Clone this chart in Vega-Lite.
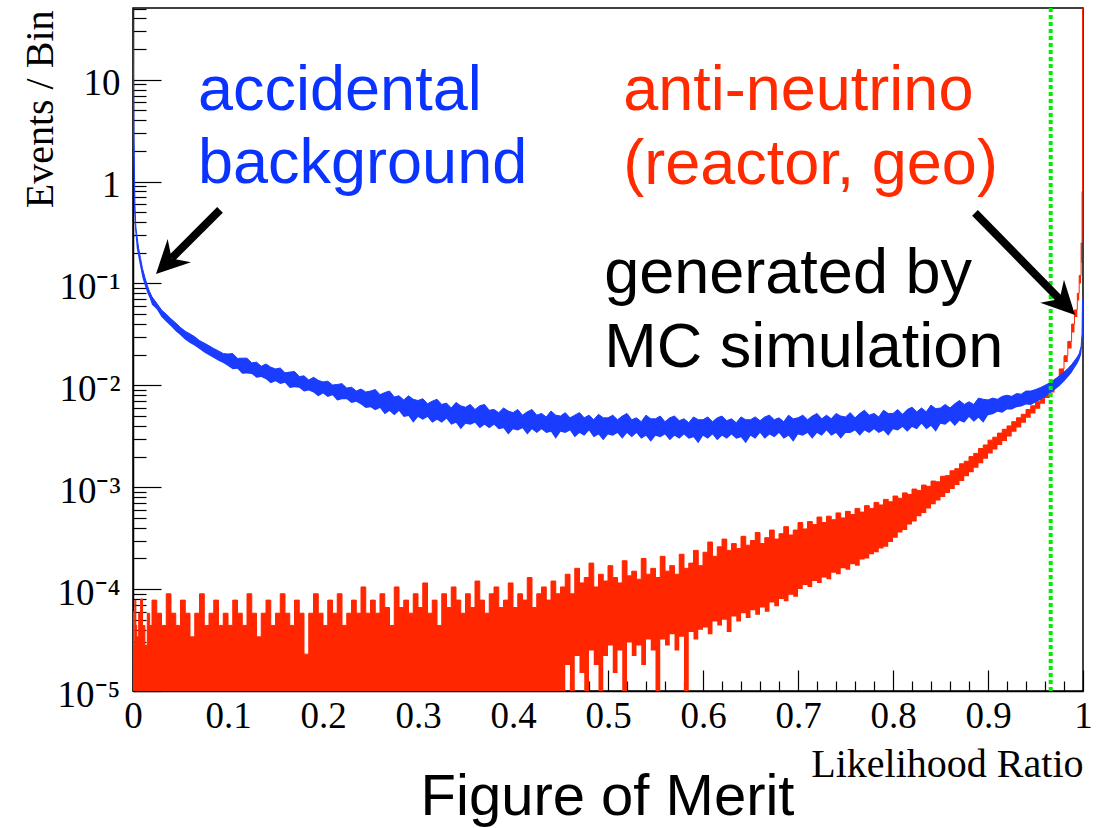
{
"$schema": "https://vega.github.io/schema/vega-lite/v6.json",
"width": 950, "height": 683,
"autosize": {"type": "none"},
"padding": {"left": 133, "top": 8, "right": 30, "bottom": 137},
"background": "white",
"config": {"view": {"stroke": "#000", "strokeWidth": 1.5}, "axis": {"grid": false}},
"datasets": {
"hist": [
{"x":0,"bh":50,"bl":3,"rh":6e-5,"rl":5e-6},
{"x":0.001,"bh":3,"bl":0.6,"rh":2.8e-5,"rl":5e-6},
{"x":0.002,"bh":0.6,"bl":0.36,"rh":7.8e-5,"rl":5e-6},
{"x":0.003,"bh":0.36,"bl":0.28,"rh":4.4e-5,"rl":5e-6},
{"x":0.004,"bh":0.3,"bl":0.22,"rh":3.4e-5,"rl":5e-6},
{"x":0.006,"bh":0.22,"bl":0.175,"rh":5.8e-5,"rl":5e-6},
{"x":0.008,"bh":0.175,"bl":0.14,"rh":8e-5,"rl":5e-6},
{"x":0.01,"bh":0.14,"bl":0.113,"rh":4.4e-5,"rl":5e-6},
{"x":0.0125,"bh":0.115,"bl":0.095,"rh":2.8e-5,"rl":5e-6},
{"x":0.015,"bh":0.096,"bl":0.081,"rh":5.8e-5,"rl":5e-6},
{"x":0.0175,"bh":0.083,"bl":0.072,"rh":4.4e-5,"rl":5e-6},
{"x":0.02,"bh":0.074,"bl":0.062,"rh":7.8e-5,"rl":5e-6},
{"x":0.025,"bh":0.064,"bl":0.056,"rh":5.8e-5,"rl":5e-6},
{"x":0.03,"bh":0.055,"bl":0.047,"rh":4.4e-5,"rl":5e-6},
{"x":0.035,"bh":0.05,"bl":0.042,"rh":9e-5,"rl":5e-6},
{"x":0.04,"bh":0.045,"bl":0.038,"rh":5.8e-5,"rl":5e-6},
{"x":0.045,"bh":0.041,"bl":0.034,"rh":4.4e-5,"rl":5e-6},
{"x":0.05,"bh":0.037,"bl":0.031,"rh":7.8e-5,"rl":5e-6},
{"x":0.055,"bh":0.034,"bl":0.028,"rh":5.8e-5,"rl":5e-6},
{"x":0.06,"bh":0.032,"bl":0.026,"rh":3.4e-5,"rl":5e-6},
{"x":0.065,"bh":0.03,"bl":0.0245,"rh":5.8e-5,"rl":5e-6},
{"x":0.07,"bh":0.0275,"bl":0.0228,"rh":9e-5,"rl":5e-6},
{"x":0.075,"bh":0.026,"bl":0.021,"rh":4.4e-5,"rl":5e-6},
{"x":0.08,"bh":0.0245,"bl":0.0198,"rh":5.8e-5,"rl":5e-6},
{"x":0.085,"bh":0.023,"bl":0.0186,"rh":7.8e-5,"rl":5e-6},
{"x":0.09,"bh":0.0218,"bl":0.0174,"rh":4.4e-5,"rl":5e-6},
{"x":0.095,"bh":0.0205,"bl":0.0166,"rh":5.8e-5,"rl":5e-6},
{"x":0.1,"bh":0.0203,"bl":0.0155,"rh":4.4e-5,"rl":5e-6},
{"x":0.105,"bh":0.0205,"bl":0.0144,"rh":7.8e-5,"rl":5e-6},
{"x":0.11,"bh":0.0184,"bl":0.0146,"rh":5.8e-5,"rl":5e-6},
{"x":0.115,"bh":0.0185,"bl":0.013,"rh":4.4e-5,"rl":5e-6},
{"x":0.12,"bh":0.0185,"bl":0.0131,"rh":9e-5,"rl":5e-6},
{"x":0.125,"bh":0.0166,"bl":0.0129,"rh":5.8e-5,"rl":5e-6},
{"x":0.13,"bh":0.0169,"bl":0.0119,"rh":3.4e-5,"rl":5e-6},
{"x":0.135,"bh":0.0154,"bl":0.0121,"rh":5.8e-5,"rl":5e-6},
{"x":0.14,"bh":0.0162,"bl":0.0115,"rh":7.8e-5,"rl":5e-6},
{"x":0.145,"bh":0.0151,"bl":0.0105,"rh":4.4e-5,"rl":5e-6},
{"x":0.15,"bh":0.0145,"bl":0.011,"rh":5.8e-5,"rl":5e-6},
{"x":0.155,"bh":0.0148,"bl":0.0103,"rh":9e-5,"rl":5e-6},
{"x":0.16,"bh":0.0133,"bl":0.0106,"rh":5.8e-5,"rl":5e-6},
{"x":0.165,"bh":0.0135,"bl":0.0094,"rh":4.4e-5,"rl":5e-6},
{"x":0.17,"bh":0.0137,"bl":0.0096,"rh":7.8e-5,"rl":5e-6},
{"x":0.175,"bh":0.0122,"bl":0.0095,"rh":5.8e-5,"rl":5e-6},
{"x":0.18,"bh":0.0124,"bl":0.0087,"rh":2.3e-5,"rl":5e-6},
{"x":0.185,"bh":0.0113,"bl":0.0089,"rh":5.8e-5,"rl":5e-6},
{"x":0.19,"bh":0.012,"bl":0.0085,"rh":9e-5,"rl":5e-6},
{"x":0.195,"bh":0.0112,"bl":0.0078,"rh":5.8e-5,"rl":5e-6},
{"x":0.2,"bh":0.0108,"bl":0.0083,"rh":4.4e-5,"rl":5e-6},
{"x":0.205,"bh":0.011,"bl":0.0077,"rh":7.8e-5,"rl":5e-6},
{"x":0.21,"bh":0.0101,"bl":0.008,"rh":5.8e-5,"rl":5e-6},
{"x":0.215,"bh":0.0102,"bl":0.0071,"rh":9e-5,"rl":5e-6},
{"x":0.22,"bh":0.0104,"bl":0.0073,"rh":4.4e-5,"rl":5e-6},
{"x":0.225,"bh":0.0094,"bl":0.0073,"rh":5.8e-5,"rl":5e-6},
{"x":0.23,"bh":0.0096,"bl":0.0067,"rh":7.8e-5,"rl":5e-6},
{"x":0.235,"bh":0.0088,"bl":0.0069,"rh":5.8e-5,"rl":5e-6},
{"x":0.24,"bh":0.0092,"bl":0.0065,"rh":1.05e-4,"rl":5e-6},
{"x":0.245,"bh":0.0086,"bl":0.006,"rh":5.8e-5,"rl":5e-6},
{"x":0.25,"bh":0.0088,"bl":0.0061,"rh":7.8e-5,"rl":5e-6},
{"x":0.255,"bh":0.0091,"bl":0.0057,"rh":5.8e-5,"rl":5e-6},
{"x":0.26,"bh":0.0081,"bl":0.006,"rh":9e-5,"rl":5e-6},
{"x":0.265,"bh":0.0085,"bl":0.0052,"rh":6.6e-5,"rl":5e-6},
{"x":0.27,"bh":0.0088,"bl":0.0056,"rh":4.4e-5,"rl":5e-6},
{"x":0.275,"bh":0.0077,"bl":0.0051,"rh":1.05e-4,"rl":5e-6},
{"x":0.28,"bh":0.0079,"bl":0.0056,"rh":6.6e-5,"rl":5e-6},
{"x":0.285,"bh":0.0072,"bl":0.0049,"rh":7.8e-5,"rl":5e-6},
{"x":0.29,"bh":0.0079,"bl":0.005,"rh":5.8e-5,"rl":5e-6},
{"x":0.295,"bh":0.0073,"bl":0.0043,"rh":9e-5,"rl":5e-6},
{"x":0.3,"bh":0.0071,"bl":0.0049,"rh":6.6e-5,"rl":5e-6},
{"x":0.305,"bh":0.0074,"bl":0.0046,"rh":1.15e-4,"rl":5e-6},
{"x":0.31,"bh":0.0066,"bl":0.0049,"rh":5.8e-5,"rl":5e-6},
{"x":0.315,"bh":0.007,"bl":0.0043,"rh":7.8e-5,"rl":5e-6},
{"x":0.32,"bh":0.0073,"bl":0.0046,"rh":4.4e-5,"rl":5e-6},
{"x":0.325,"bh":0.0065,"bl":0.0043,"rh":9e-5,"rl":5e-6},
{"x":0.33,"bh":0.0067,"bl":0.0047,"rh":6.6e-5,"rl":5e-6},
{"x":0.335,"bh":0.006,"bl":0.0041,"rh":1.05e-4,"rl":5e-6},
{"x":0.34,"bh":0.0068,"bl":0.0043,"rh":7.8e-5,"rl":5e-6},
{"x":0.345,"bh":0.0063,"bl":0.0037,"rh":5.8e-5,"rl":5e-6},
{"x":0.35,"bh":0.0061,"bl":0.0042,"rh":9e-5,"rl":5e-6},
{"x":0.355,"bh":0.0065,"bl":0.0041,"rh":6.6e-5,"rl":5e-6},
{"x":0.36,"bh":0.0058,"bl":0.0043,"rh":1.2e-4,"rl":5e-6},
{"x":0.365,"bh":0.0063,"bl":0.0038,"rh":7.8e-5,"rl":5e-6},
{"x":0.37,"bh":0.0065,"bl":0.0041,"rh":5.8e-5,"rl":5e-6},
{"x":0.375,"bh":0.0057,"bl":0.0038,"rh":9e-5,"rl":5e-6},
{"x":0.38,"bh":0.0058,"bl":0.0041,"rh":1.05e-4,"rl":5e-6},
{"x":0.385,"bh":0.0054,"bl":0.0037,"rh":6.6e-5,"rl":5e-6},
{"x":0.39,"bh":0.006,"bl":0.0038,"rh":7.8e-5,"rl":5e-6},
{"x":0.395,"bh":0.0056,"bl":0.0033,"rh":1.15e-4,"rl":5e-6},
{"x":0.4,"bh":0.0054,"bl":0.0037,"rh":6.6e-5,"rl":5e-6},
{"x":0.405,"bh":0.0058,"bl":0.0036,"rh":9e-5,"rl":5e-6},
{"x":0.41,"bh":0.0051,"bl":0.0038,"rh":7.8e-5,"rl":5e-6},
{"x":0.415,"bh":0.0055,"bl":0.0033,"rh":1.3e-4,"rl":5e-6},
{"x":0.42,"bh":0.0058,"bl":0.0037,"rh":6.6e-5,"rl":5e-6},
{"x":0.425,"bh":0.0051,"bl":0.0034,"rh":9e-5,"rl":5e-6},
{"x":0.43,"bh":0.0053,"bl":0.0037,"rh":1.05e-4,"rl":5e-6},
{"x":0.435,"bh":0.0049,"bl":0.0034,"rh":7.8e-5,"rl":5e-6},
{"x":0.44,"bh":0.0056,"bl":0.0035,"rh":1.2e-4,"rl":5e-6},
{"x":0.445,"bh":0.0051,"bl":0.003,"rh":9e-5,"rl":5e-6},
{"x":0.45,"bh":0.005,"bl":0.0035,"rh":1.05e-4,"rl":5e-6},
{"x":0.455,"bh":0.0054,"bl":0.0034,"rh":1.4e-4,"rl":1.8e-5},
{"x":0.46,"bh":0.0048,"bl":0.0036,"rh":9e-5,"rl":5e-6},
{"x":0.465,"bh":0.0051,"bl":0.0031,"rh":1.6e-4,"rl":2.2e-5},
{"x":0.47,"bh":0.0054,"bl":0.0034,"rh":1.15e-4,"rl":1.5e-5},
{"x":0.475,"bh":0.0048,"bl":0.0032,"rh":1.3e-4,"rl":5e-6},
{"x":0.48,"bh":0.0051,"bl":0.0036,"rh":1.8e-4,"rl":2.5e-5},
{"x":0.485,"bh":0.0046,"bl":0.0031,"rh":1.05e-4,"rl":1.8e-5},
{"x":0.49,"bh":0.0052,"bl":0.0033,"rh":1.4e-4,"rl":5e-6},
{"x":0.495,"bh":0.0048,"bl":0.0029,"rh":1.2e-4,"rl":2.2e-5},
{"x":0.5,"bh":0.0048,"bl":0.0033,"rh":1.7e-4,"rl":2.8e-5},
{"x":0.505,"bh":0.0051,"bl":0.0032,"rh":1.3e-4,"rl":1.5e-5},
{"x":0.51,"bh":0.0046,"bl":0.0034,"rh":1.15e-4,"rl":2.5e-5},
{"x":0.515,"bh":0.005,"bl":0.003,"rh":1.9e-4,"rl":5e-6},
{"x":0.52,"bh":0.0053,"bl":0.0034,"rh":1.35e-4,"rl":3e-5},
{"x":0.525,"bh":0.0046,"bl":0.0031,"rh":1.5e-4,"rl":2.2e-5},
{"x":0.53,"bh":0.0048,"bl":0.0034,"rh":1.25e-4,"rl":2.8e-5},
{"x":0.535,"bh":0.0044,"bl":0.003,"rh":2e-4,"rl":1.8e-5},
{"x":0.54,"bh":0.0051,"bl":0.0032,"rh":1.4e-4,"rl":3.2e-5},
{"x":0.545,"bh":0.0047,"bl":0.0028,"rh":1.6e-4,"rl":2.5e-5},
{"x":0.55,"bh":0.0047,"bl":0.0032,"rh":1.3e-4,"rl":5e-6},
{"x":0.555,"bh":0.005,"bl":0.0031,"rh":2.1e-4,"rl":3.2e-5},
{"x":0.56,"bh":0.0044,"bl":0.0033,"rh":1.5e-4,"rl":2.8e-5},
{"x":0.565,"bh":0.0048,"bl":0.0029,"rh":1.7e-4,"rl":3.6e-5},
{"x":0.57,"bh":0.005,"bl":0.0032,"rh":1.4e-4,"rl":2.5e-5},
{"x":0.575,"bh":0.0045,"bl":0.003,"rh":2.2e-4,"rl":3.4e-5},
{"x":0.58,"bh":0.0047,"bl":0.0033,"rh":1.6e-4,"rl":5e-6},
{"x":0.585,"bh":0.0043,"bl":0.003,"rh":1.8e-4,"rl":3.8e-5},
{"x":0.59,"bh":0.0049,"bl":0.0031,"rh":2.4e-4,"rl":3.2e-5},
{"x":0.595,"bh":0.0046,"bl":0.0027,"rh":1.7e-4,"rl":4e-5},
{"x":0.6,"bh":0.0046,"bl":0.0032,"rh":2.3e-4,"rl":4.2e-5},
{"x":0.605,"bh":0.0049,"bl":0.003,"rh":2.9e-4,"rl":3.6e-5},
{"x":0.61,"bh":0.0044,"bl":0.0033,"rh":2.1e-4,"rl":4.8e-5},
{"x":0.615,"bh":0.0048,"bl":0.0029,"rh":2.6e-4,"rl":4.4e-5},
{"x":0.62,"bh":0.005,"bl":0.0032,"rh":3.1e-4,"rl":5e-5},
{"x":0.625,"bh":0.0045,"bl":0.003,"rh":2.4e-4,"rl":3.8e-5},
{"x":0.63,"bh":0.0047,"bl":0.0033,"rh":2.8e-4,"rl":5.4e-5},
{"x":0.635,"bh":0.0043,"bl":0.003,"rh":2.5e-4,"rl":4.8e-5},
{"x":0.64,"bh":0.0049,"bl":0.0031,"rh":3.3e-4,"rl":5.8e-5},
{"x":0.645,"bh":0.0046,"bl":0.0027,"rh":2.7e-4,"rl":5.2e-5},
{"x":0.65,"bh":0.0046,"bl":0.0032,"rh":3e-4,"rl":6.2e-5},
{"x":0.655,"bh":0.0049,"bl":0.003,"rh":3.6e-4,"rl":5.6e-5},
{"x":0.66,"bh":0.0045,"bl":0.0034,"rh":2.8e-4,"rl":6.6e-5},
{"x":0.665,"bh":0.0049,"bl":0.003,"rh":3.2e-4,"rl":6e-5},
{"x":0.67,"bh":0.0051,"bl":0.0033,"rh":3.8e-4,"rl":7.4e-5},
{"x":0.675,"bh":0.0046,"bl":0.0031,"rh":3.1e-4,"rl":6.8e-5},
{"x":0.68,"bh":0.0048,"bl":0.0034,"rh":3.5e-4,"rl":8e-5},
{"x":0.685,"bh":0.0044,"bl":0.003,"rh":4.1e-4,"rl":7.6e-5},
{"x":0.69,"bh":0.0051,"bl":0.0032,"rh":3.4e-4,"rl":8.8e-5},
{"x":0.695,"bh":0.0047,"bl":0.0028,"rh":3.8e-4,"rl":8.4e-5},
{"x":0.7,"bh":0.0048,"bl":0.0033,"rh":4.5e-4,"rl":1e-4},
{"x":0.705,"bh":0.0051,"bl":0.0032,"rh":3.9e-4,"rl":1.1e-4},
{"x":0.71,"bh":0.0046,"bl":0.0034,"rh":4.6e-4,"rl":1.05e-4},
{"x":0.715,"bh":0.005,"bl":0.003,"rh":4.3e-4,"rl":1.2e-4},
{"x":0.72,"bh":0.0053,"bl":0.0034,"rh":5.1e-4,"rl":1.15e-4},
{"x":0.725,"bh":0.0047,"bl":0.0032,"rh":4.5e-4,"rl":1.3e-4},
{"x":0.73,"bh":0.0051,"bl":0.0036,"rh":5.2e-4,"rl":1.25e-4},
{"x":0.735,"bh":0.0047,"bl":0.0032,"rh":4.8e-4,"rl":1.45e-4},
{"x":0.74,"bh":0.0053,"bl":0.0034,"rh":5.6e-4,"rl":1.4e-4},
{"x":0.745,"bh":0.005,"bl":0.003,"rh":5e-4,"rl":1.6e-4},
{"x":0.75,"bh":0.0049,"bl":0.0034,"rh":5.8e-4,"rl":1.55e-4},
{"x":0.755,"bh":0.0054,"bl":0.0034,"rh":5.4e-4,"rl":1.75e-4},
{"x":0.76,"bh":0.0048,"bl":0.0036,"rh":6.2e-4,"rl":1.7e-4},
{"x":0.765,"bh":0.0053,"bl":0.0032,"rh":5.7e-4,"rl":1.95e-4},
{"x":0.77,"bh":0.0057,"bl":0.0036,"rh":6.6e-4,"rl":2e-4},
{"x":0.775,"bh":0.0051,"bl":0.0034,"rh":6.2e-4,"rl":2.2e-4},
{"x":0.78,"bh":0.0053,"bl":0.0037,"rh":7.1e-4,"rl":2.3e-4},
{"x":0.785,"bh":0.0049,"bl":0.0034,"rh":6.7e-4,"rl":2.5e-4},
{"x":0.79,"bh":0.0057,"bl":0.0036,"rh":7.6e-4,"rl":2.6e-4},
{"x":0.795,"bh":0.0053,"bl":0.0032,"rh":7.2e-4,"rl":2.9e-4},
{"x":0.8,"bh":0.0053,"bl":0.0037,"rh":8.2e-4,"rl":3.2e-4},
{"x":0.805,"bh":0.0058,"bl":0.0036,"rh":7.8e-4,"rl":3.6e-4},
{"x":0.81,"bh":0.0052,"bl":0.0039,"rh":8.8e-4,"rl":3.8e-4},
{"x":0.815,"bh":0.0058,"bl":0.0035,"rh":8.5e-4,"rl":4.3e-4},
{"x":0.82,"bh":0.0061,"bl":0.0039,"rh":9.6e-4,"rl":4.6e-4},
{"x":0.825,"bh":0.0055,"bl":0.0037,"rh":9.3e-4,"rl":5.2e-4},
{"x":0.83,"bh":0.006,"bl":0.0042,"rh":1.05e-3,"rl":5.6e-4},
{"x":0.835,"bh":0.0055,"bl":0.0037,"rh":1.02e-3,"rl":6.2e-4},
{"x":0.84,"bh":0.0064,"bl":0.004,"rh":1.15e-3,"rl":6.8e-4},
{"x":0.845,"bh":0.0059,"bl":0.0035,"rh":1.13e-3,"rl":7.4e-4},
{"x":0.85,"bh":0.006,"bl":0.0042,"rh":1.28e-3,"rl":8e-4},
{"x":0.855,"bh":0.0065,"bl":0.0041,"rh":1.3e-3,"rl":8.8e-4},
{"x":0.86,"bh":0.006,"bl":0.0045,"rh":1.45e-3,"rl":9.6e-4},
{"x":0.865,"bh":0.0066,"bl":0.004,"rh":1.52e-3,"rl":1.05e-3},
{"x":0.87,"bh":0.0071,"bl":0.0045,"rh":1.7e-3,"rl":1.15e-3},
{"x":0.875,"bh":0.0065,"bl":0.0043,"rh":1.8e-3,"rl":1.28e-3},
{"x":0.88,"bh":0.0069,"bl":0.0049,"rh":2e-3,"rl":1.4e-3},
{"x":0.885,"bh":0.0065,"bl":0.0044,"rh":2.15e-3,"rl":1.55e-3},
{"x":0.89,"bh":0.0075,"bl":0.0048,"rh":2.4e-3,"rl":1.72e-3},
{"x":0.895,"bh":0.0073,"bl":0.0043,"rh":2.6e-3,"rl":1.9e-3},
{"x":0.9,"bh":0.0072,"bl":0.0051,"rh":2.9e-3,"rl":2.15e-3},
{"x":0.905,"bh":0.0075,"bl":0.0052,"rh":3.1e-3,"rl":2.35e-3},
{"x":0.91,"bh":0.0073,"bl":0.0055,"rh":3.4e-3,"rl":2.6e-3},
{"x":0.915,"bh":0.0078,"bl":0.0054,"rh":3.7e-3,"rl":2.85e-3},
{"x":0.92,"bh":0.008,"bl":0.0058,"rh":4e-3,"rl":3.15e-3},
{"x":0.925,"bh":0.0078,"bl":0.0058,"rh":4.4e-3,"rl":3.5e-3},
{"x":0.93,"bh":0.0083,"bl":0.0061,"rh":4.8e-3,"rl":3.85e-3},
{"x":0.935,"bh":0.0082,"bl":0.0062,"rh":5.2e-3,"rl":4.3e-3},
{"x":0.94,"bh":0.0088,"bl":0.0065,"rh":5.8e-3,"rl":4.8e-3},
{"x":0.945,"bh":0.0088,"bl":0.0064,"rh":6.3e-3,"rl":5.3e-3},
{"x":0.95,"bh":0.0091,"bl":0.0068,"rh":6.9e-3,"rl":5.9e-3},
{"x":0.955,"bh":0.0095,"bl":0.0072,"rh":7.6e-3,"rl":6.6e-3},
{"x":0.96,"bh":0.01,"bl":0.0077,"rh":8.5e-3,"rl":7.5e-3},
{"x":0.965,"bh":0.0106,"bl":0.0083,"rh":9.5e-3,"rl":8.5e-3},
{"x":0.97,"bh":0.0114,"bl":0.009,"rh":0.0115,"rl":0.0102},
{"x":0.975,"bh":0.0124,"bl":0.0098,"rh":0.0145,"rl":0.0125},
{"x":0.98,"bh":0.0135,"bl":0.0109,"rh":0.0195,"rl":0.017},
{"x":0.984,"bh":0.0146,"bl":0.012,"rh":0.027,"rl":0.023},
{"x":0.988,"bh":0.016,"bl":0.0133,"rh":0.04,"rl":0.033},
{"x":0.991,"bh":0.0174,"bl":0.0148,"rh":0.055,"rl":0.047},
{"x":0.994,"bh":0.019,"bl":0.0163,"rh":0.08,"rl":0.068},
{"x":0.996,"bh":0.0205,"bl":0.0177,"rh":0.12,"rl":0.1},
{"x":0.998,"bh":0.024,"bl":0.02,"rh":0.25,"rl":0.16},
{"x":0.999,"bh":0.032,"bl":0.024,"rh":0.8,"rl":0.3},
{"x":0.9995,"bh":0.07,"bl":0.03,"rh":50,"rl":1},
{"x":1,"bh":0.07,"bl":0.03,"rh":50,"rl":1}
],
"cut": [{"cut": 0.966}],
"arrows": [
{"id":"bg","x1":0.0916,"y1":0.528,"x2":0.0406,"y2":0.177,"tx":0.0242,"ty":0.124},
{"id":"nu","x1":0.8863,"y1":0.4936,"x2":0.9754,"y2":0.0701,"tx":0.9916,"ty":0.0491}
],
"notes": [
{"x":0.0684,"y":5.074,"label":"accidental","group":"bg"},
{"x":0.0684,"y":0.973,"label":"background","group":"bg"},
{"x":0.516,"y":5.074,"label":"anti-neutrino","group":"nu"},
{"x":0.516,"y":0.951,"label":"(reactor, geo)","group":"nu"},
{"x":0.496,"y":0.0808,"label":"generated by","group":"mc"},
{"x":0.496,"y":0.01517,"label":"MC simulation","group":"mc"}
]
},
"resolve": {"axis": {"x": "independent", "y": "independent"}},
"layer": [
{
"data": {"name": "hist"},
"mark": {"type": "area", "interpolate": "step-after", "color": "#ff2600", "opacity": 1, "fillOpacity": 1, "clip": true, "line": {"color": "#ff2600", "strokeWidth": 1}},
"encoding": {
"x": {"field": "x", "type": "quantitative", "scale": {"domain": [0, 1], "nice": false, "zero": false},
"axis": {"orient": "bottom", "values": [0.02,0.04,0.06,0.08,0.12,0.14,0.16,0.18,0.22,0.24,0.26,0.28,0.32,0.34,0.36,0.38,0.42,0.44,0.46,0.48,0.52,0.54,0.56,0.58,0.62,0.64,0.66,0.68,0.72,0.74,0.76,0.78,0.82,0.84,0.86,0.88,0.92,0.94,0.96,0.98],
"labels": false, "domain": false, "tickSize": -10, "tickColor": "#000", "tickWidth": 1.2,
"title": "Figure of Merit", "titleFont": "Liberation Sans", "titleFontSize": 58, "titleFontWeight": "normal", "titleColor": "#000",
"titleX": 474, "titleY": 123, "titleAlign": "center", "titleBaseline": "alphabetic", "titleAngle": 0}},
"y": {"field": "rh", "type": "quantitative", "scale": {"type": "log", "domain": [1e-5, 50.6], "nice": false},
"axis": {"orient": "left", "values": [2e-5,3e-5,4e-5,5e-5,6e-5,7e-5,8e-5,9e-5,2e-4,3e-4,4e-4,5e-4,6e-4,7e-4,8e-4,9e-4,0.002,0.003,0.004,0.005,0.006,0.007,0.008,0.009,0.02,0.03,0.04,0.05,0.06,0.07,0.08,0.09,0.2,0.3,0.4,0.5,0.6,0.7,0.8,0.9,2,3,4,5,6,7,8,9,20,30,40,50],
"labels": false, "domain": false, "tickSize": -13, "tickColor": "#000", "tickWidth": 1.2, "title": null}},
"y2": {"field": "rl"}
}
},
{
"data": {"name": "hist"},
"mark": {"type": "area", "interpolate": "linear", "color": "#1a3cff", "opacity": 1, "fillOpacity": 1, "clip": true, "line": {"color": "#1a3cff", "strokeWidth": 1}},
"encoding": {
"x": {"field": "x", "type": "quantitative",
"axis": {"orient": "bottom", "values": [0,0.1,0.2,0.3,0.4,0.5,0.6,0.7,0.8,0.9,1], "format": "~g",
"labelFont": "Liberation Serif", "labelFontSize": 37, "labelColor": "#000", "labelPadding": 57, "labelBaseline": "alphabetic",
"labelFlush": false, "labelOverlap": false, "tickSize": -21, "tickColor": "#000", "tickWidth": 1.2,
"domainColor": "#000", "domainWidth": 1.5,
"title": "Likelihood Ratio", "titleFont": "Liberation Serif", "titleFontSize": 40, "titleFontWeight": "normal", "titleColor": "#000",
"titleX": 950, "titleY": 85, "titleAlign": "right", "titleBaseline": "alphabetic", "titleAngle": 0}},
"y": {"field": "bh", "type": "quantitative",
"axis": {"orient": "left", "values": [1e-5,1e-4,1e-3,0.01,0.1,1,10],
"labelExpr": "datum.value > 5 ? '10' : datum.value > 0.5 ? '1' : datum.value > 0.05 ? '10⁻¹' : datum.value > 0.005 ? '10⁻²' : datum.value > 0.0005 ? '10⁻³' : datum.value > 0.00005 ? '10⁻⁴' : '10⁻⁵'",
"labelFont": "Liberation Serif", "labelFontSize": 37, "labelColor": "#000", "labelPadding": 41, "labelBaseline": "middle", "labelOffset": 4,
"labelFlush": false, "labelOverlap": false, "tickSize": -28, "tickColor": "#000", "tickWidth": 1.2,
"domainColor": "#000", "domainWidth": 1.5,
"title": "Events / Bin", "titleFont": "Liberation Serif", "titleFontSize": 40, "titleFontWeight": "normal", "titleColor": "#000",
"titleX": -81, "titleY": 2, "titleAlign": "right", "titleBaseline": "alphabetic", "titleAngle": 270}},
"y2": {"field": "bl"}
}
},
{
"data": {"name": "cut"},
"mark": {"type": "rule", "color": "#00ee00", "strokeWidth": 4, "strokeDash": [4, 3]},
"encoding": {"x": {"field": "cut", "type": "quantitative", "axis": null}}
},
{
"data": {"name": "arrows"},
"mark": {"type": "rule", "color": "#000", "strokeWidth": 8, "strokeCap": "butt"},
"encoding": {
"x": {"field": "x1", "type": "quantitative", "axis": null},
"y": {"field": "y1", "type": "quantitative", "axis": null},
"x2": {"field": "x2"},
"y2": {"field": "y2"}
}
},
{
"data": {"name": "arrows"},
"transform": [{"filter": "datum.id == 'bg'"}],
"mark": {"type": "point", "shape": "M0,0L0.8,1.6L0,1.07L-0.8,1.6Z", "filled": true, "size": 1700, "angle": 225, "color": "#000", "opacity": 1, "strokeWidth": 0},
"encoding": {
"x": {"field": "tx", "type": "quantitative", "axis": null},
"y": {"field": "ty", "type": "quantitative", "axis": null}
}
},
{
"data": {"name": "arrows"},
"transform": [{"filter": "datum.id == 'nu'"}],
"mark": {"type": "point", "shape": "M0,0L0.8,1.6L0,1.07L-0.8,1.6Z", "filled": true, "size": 1700, "angle": 136, "color": "#000", "opacity": 1, "strokeWidth": 0},
"encoding": {
"x": {"field": "tx", "type": "quantitative", "axis": null},
"y": {"field": "ty", "type": "quantitative", "axis": null}
}
},
{
"data": {"name": "notes"},
"mark": {"type": "text", "font": "Liberation Sans", "fontSize": 63, "align": "left", "baseline": "alphabetic"},
"encoding": {
"x": {"field": "x", "type": "quantitative", "axis": null},
"y": {"field": "y", "type": "quantitative", "axis": null},
"text": {"field": "label"},
"color": {"field": "group", "type": "nominal", "scale": {"domain": ["bg", "nu", "mc"], "range": ["#0a33ff", "#ff2a00", "#000000"]}, "legend": null}
}
}
]
}
